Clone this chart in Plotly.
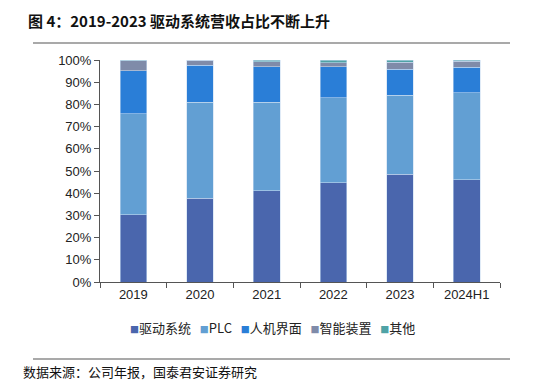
import plotly.graph_objects as go

categories = ["2019", "2020", "2021", "2022", "2023", "2024H1"]
drive = [30.2, 37.8, 41.0, 44.6, 48.6, 46.0]
plc = [45.5, 43.2, 40.0, 38.4, 35.6, 39.2]
hmi = [19.5, 16.7, 16.0, 14.0, 11.7, 11.5]
smart = [4.5, 2.1, 2.2, 1.8, 3.0, 2.7]
other = [0.3, 0.2, 0.8, 1.2, 1.1, 0.6]
series_names = ["驱动系统", "PLC", "人机界面", "智能装置", "其他"]
series_values = [drive, plc, hmi, smart, other]
colors = ["#4A66AD", "#629FD3", "#2A7ED7", "#7F8BA9", "#4FA3A6"]
y_ticks = [0, 10, 20, 30, 40, 50, 60, 70, 80, 90, 100]
y_ticklabels = [f"{v}%" for v in y_ticks]

title_text = "图 4：2019-2023 驱动系统营收占比不断上升"
source_text = "数据来源：公司年报，国泰君安证券研究"

fig = go.Figure()
for name, vals, c in zip(series_names, series_values, colors):
    fig.add_trace(go.Bar(
        x=categories, y=vals, name=name,
        marker=dict(color=c, line=dict(color="rgba(200,220,240,0.7)", width=0.8)),
        showlegend=False,
    ))

font_tick = dict(family="Liberation Sans, Arial, sans-serif", size=13, color="#222")
fig.update_layout(
    width=547, height=380,
    margin=dict(l=100, r=47, t=60, b=98),
    barmode="stack", bargap=0.6,
    plot_bgcolor="white", paper_bgcolor="white",
    xaxis=dict(
        showline=True, linecolor="#555", linewidth=1,
        ticks="outside", ticklen=5, tickcolor="#555",
        tickson="boundaries", tickfont=font_tick, showgrid=False,
    ),
    yaxis=dict(
        range=[0, 100], tickvals=y_ticks, ticktext=y_ticklabels,
        showline=True, linecolor="#555", linewidth=1,
        ticks="outside", ticklen=5, tickcolor="#555",
        tickfont=font_tick, showgrid=False, zeroline=False,
    ),
    font=dict(family="Noto Sans CJK SC"),
)

# Legend built as text from series names and colors
legend_parts = []
for name, c in zip(series_names, colors):
    legend_parts.append(
        f'<span style="color:{c};font-size:9px">■</span>{name}'
    )
legend_text = "   ".join(legend_parts)
fig.add_annotation(
    text=legend_text, xref="paper", yref="paper",
    x=(272 - 100) / 400, y=-(327 - 282) / 222, xanchor="center", yanchor="middle",
    showarrow=False,
    font=dict(family="Noto Sans CJK SC, Liberation Sans", size=13, color="#222"),
)

# Title
fig.add_annotation(
    text=f"<b>{title_text}</b>", xref="paper", yref="paper",
    x=(26 - 100) / 400, y=(282 - 20) / 222, xanchor="left", yanchor="middle",
    showarrow=False,
    font=dict(family="Noto Sans CJK SC", size=15, color="#111"),
)
# Source
fig.add_annotation(
    text=source_text, xref="paper", yref="paper",
    x=(21 - 100) / 400, y=-(371 - 282) / 222, xanchor="left", yanchor="middle",
    showarrow=False,
    font=dict(family="Noto Sans CJK SC", size=13, color="#111"),
)
# Separator lines
for yy in [43, 359]:
    fig.add_shape(
        type="line", xref="paper", yref="paper",
        x0=(33 - 100) / 400, x1=(510 - 100) / 400,
        y0=(282 - yy) / 222, y1=(282 - yy) / 222,
        line=dict(color="#555", width=1.2),
    )

fig.write_html(
    "out.html",
    config={"displayModeBar": False},
    post_script="document.body.style.margin='0';document.body.style.overflow='hidden';",
)
